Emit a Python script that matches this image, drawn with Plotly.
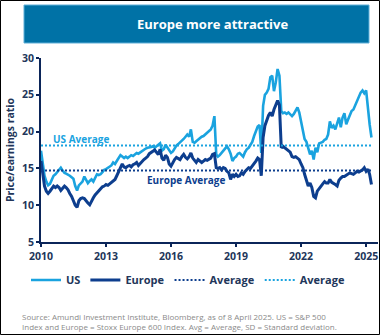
import pandas as pd
import plotly.graph_objects as go

# ---- data (monthly, Jan 2010 - Apr 2025) ----
start_month = "2010-01-01"
end_month = "2025-04-01"

us_pe = [
    17.4, 15.6, 14.0, 13.2, 12.7, 12.9, 13.4, 14.0, 14.2, 14.5, 14.8, 15.1,  # 2010
    14.7, 14.4, 14.3, 14.2, 14.0, 13.8, 13.6, 12.6, 12.0, 12.7, 12.9, 13.2,  # 2011
    13.9, 13.4, 13.0, 13.3, 13.5, 13.2, 13.8, 14.2, 14.1, 14.2, 14.5, 14.8,  # 2012
    14.9, 15.1, 15.3, 15.4, 15.8, 15.6, 16.0, 16.4, 16.8, 16.6, 16.4, 16.6,  # 2013
    16.4, 16.6, 16.8, 16.7, 16.9, 17.1, 17.0, 17.2, 17.4, 17.6, 17.7, 17.8,  # 2014
    17.8, 17.9, 18.0, 17.8, 18.0, 18.2, 18.4, 17.4, 17.6, 18.2, 17.8, 17.4,  # 2015
    17.1, 17.3, 17.8, 18.1, 18.3, 18.5, 18.7, 19.0, 19.3, 19.6, 19.3, 20.3,  # 2016
    18.6, 18.5, 18.7, 18.9, 19.2, 19.3, 19.4, 19.6, 19.8, 20.0, 20.3, 20.8,  # 2017
    22.1, 16.9, 16.6, 16.8, 17.1, 17.4, 17.8, 18.0, 17.6, 17.0, 16.0, 16.4,  # 2018
    16.6, 17.0, 17.1, 16.8, 16.6, 17.2, 17.6, 17.8, 18.2, 18.6, 19.4, 20.2,  # 2019
    20.7, 20.9, 17.1, 23.5, 25.0, 25.3, 25.8, 27.4, 27.6, 25.5, 26.7, 28.5,  # 2020
    27.6, 22.8, 22.5, 22.6, 22.4, 22.6, 22.3, 22.1, 22.4, 22.8, 23.3, 22.6,  # 2021
    21.4, 19.8, 19.0, 18.6, 17.6, 16.9, 17.4, 16.2, 17.8, 17.2, 18.4, 18.5,  # 2022
    18.6, 18.9, 19.0, 19.6, 21.4, 20.5, 20.8, 20.3, 21.2, 21.9, 20.6, 21.9,  # 2023
    22.5, 21.0, 21.6, 22.3, 22.8, 23.0, 23.6, 24.0, 24.6, 25.3, 25.6, 25.2,  # 2024
    25.6, 22.8, 21.0, 19.2,                                                  # 2025
]

europe_pe = [
    16.0, 14.2, 12.6, 11.9, 11.6, 11.9, 12.3, 12.6, 12.4, 12.6, 12.4, 12.0,  # 2010
    12.3, 12.6, 12.4, 12.1, 11.6, 11.2, 10.6, 10.0, 9.7, 10.6, 10.9, 11.0,   # 2011
    10.9, 10.5, 10.3, 10.05, 10.6, 11.0, 11.4, 11.7, 12.0, 12.3, 12.5, 12.6, # 2012
    12.8, 12.7, 12.9, 13.0, 13.2, 13.5, 14.0, 14.6, 15.0, 15.6, 15.2, 15.1,  # 2013
    15.3, 15.4, 15.2, 15.5, 15.6, 15.8, 15.4, 15.7, 16.0, 16.2, 16.4, 16.6,  # 2014
    17.0, 17.2, 17.4, 17.5, 17.2, 16.9, 17.6, 16.4, 16.1, 16.8, 16.5, 15.6,  # 2015
    15.3, 15.8, 16.2, 16.5, 16.3, 16.2, 16.6, 16.9, 16.5, 16.3, 16.6, 17.1,  # 2016
    16.4, 16.0, 15.8, 16.2, 16.0, 15.8, 16.0, 16.2, 16.1, 16.3, 16.4, 16.9,  # 2017
    17.0, 15.1, 15.0, 15.1, 14.8, 15.1, 15.0, 14.6, 14.4, 13.5, 14.2, 13.9,  # 2018
    14.2, 13.9, 14.0, 14.4, 14.2, 14.6, 14.8, 15.1, 15.0, 15.3, 15.6, 16.0,  # 2019
    16.4, 16.2, 14.0, 19.2, 20.8, 21.7, 22.2, 22.6, 22.1, 23.0, 23.7, 24.2,  # 2020
    23.6, 17.8, 18.0, 17.8, 17.6, 17.4, 17.2, 16.6, 16.5, 16.6, 16.4, 16.2,  # 2021
    15.6, 15.1, 14.2, 13.4, 12.6, 13.0, 12.4, 11.2, 11.0, 11.9, 12.3, 12.6,  # 2022
    12.9, 13.2, 13.0, 13.0, 13.5, 13.1, 13.0, 12.8, 12.6, 13.4, 13.7, 13.9,  # 2023
    13.9, 14.1, 14.2, 14.4, 14.3, 14.2, 14.4, 14.6, 14.5, 14.6, 14.8, 15.1,  # 2024
    14.6, 14.9, 14.2, 12.8,                                                  # 2025
]

us_average = 18.1
europe_average = 14.7

year_ticks = ["2010-01-01", "2013-01-01", "2016-01-01", "2019-01-01", "2022-01-01", "2025-01-01"]
year_labels = ["2010", "2013", "2016", "2019", "2022", "2025"]
y_ticks = [5, 10, 15, 20, 25, 30]

series_names = ["US", "Europe", "Average", "Average"]
title_text = "Europe more attractive"
y_title = "Price/earnings ratio"
source_text = ("Source: Amundi Investment Institute, Bloomberg, as of 8 April 2025. US = S&P 500<br>"
               "Index and Europe = Stoxx Europe 600 Index. Avg = Average, SD = Standard deviation.")

# ---- styling ----
W, H = 380, 335
ML, MR, MT, MB = 41, 2, 58, 93
PW, PH = W - ML - MR, H - MT - MB

LIGHT = "#1AA3DF"
DARK = "#0D3E8E"
AXIS = "#0B2559"
LABEL = "#22365A"
FONT = "Open Sans"


def px(x):
    return (x - ML) / PW


def py(y):
    return (H - MB - y) / PH


dates = pd.date_range(start_month, end_month, freq="MS")
avg_x = [dates[0], dates[-1]]

fig = go.Figure()
fig.add_trace(go.Scatter(x=dates, y=us_pe, mode="lines", name=series_names[0],
                         line=dict(color=LIGHT, width=2.6)))
fig.add_trace(go.Scatter(x=dates, y=europe_pe, mode="lines", name=series_names[1],
                         line=dict(color=DARK, width=3)))
fig.add_trace(go.Scatter(x=avg_x, y=[europe_average] * 2, mode="lines", name=series_names[2],
                         line=dict(color=DARK, width=2, dash="2px,2px")))
fig.add_trace(go.Scatter(x=avg_x, y=[us_average] * 2, mode="lines", name=series_names[3],
                         line=dict(color=LIGHT, width=2, dash="2px,2px")))

shapes = [
    # outer frame
    dict(type="rect", xref="paper", yref="paper", x0=px(0.5), x1=px(W - 0.5), y0=py(H - 0.5), y1=py(0.5),
         line=dict(color="#000000", width=1), fillcolor="rgba(0,0,0,0)", layer="below"),
    # title banner
    dict(type="rect", xref="paper", yref="paper", x0=px(24), x1=px(369), y0=py(43), y1=py(5),
         line=dict(color="#5FAFD8", width=1), fillcolor="#0072A6", layer="below"),
]

annotations = [
    dict(text=f"<b>{title_text}</b>", xref="paper", yref="paper", x=px(212), y=py(24),
         xanchor="center", yanchor="middle", showarrow=False,
         font=dict(family=FONT, size=13, color="white")),
    dict(text=f"<b>{y_title}</b>", xref="paper", yref="paper", x=px(10), y=py(150), textangle=-90,
         xanchor="center", yanchor="middle", showarrow=False,
         font=dict(family=FONT, size=10.5, color=LABEL)),
    dict(text="<b>US Average</b>", xref="paper", yref="paper", x=px(51), y=py(139),
         xanchor="left", yanchor="middle", showarrow=False,
         font=dict(family=FONT, size=10, color=LIGHT)),
    dict(text="<b>Europe Average</b>", xref="paper", yref="paper", x=px(145), y=py(180),
         xanchor="left", yanchor="middle", showarrow=False,
         font=dict(family=FONT, size=10, color=DARK)),
    dict(text=source_text, xref="paper", yref="paper", x=px(20), y=py(321), align="left",
         xanchor="left", yanchor="middle", showarrow=False,
         font=dict(family=FONT, size=8, color="#8A8A8A")),
]

fig.update_layout(
    width=W, height=H,
    margin=dict(l=ML, r=MR, t=MT, b=MB, pad=0),
    paper_bgcolor="white", plot_bgcolor="white",
    shapes=shapes, annotations=annotations,
    showlegend=True,
    legend=dict(orientation="h", x=px(26), xanchor="left", y=py(280), yanchor="middle",
                font=dict(family=FONT, size=11, color=LABEL, weight="bold"),
                bgcolor="rgba(0,0,0,0)", itemclick=False, traceorder="normal"),
    font=dict(family=FONT),
)

fig.update_xaxes(
    type="date", range=["2010-01-01", "2025-07-20"],
    tickmode="array", tickvals=year_ticks, ticktext=year_labels,
    showgrid=False, zeroline=False,
    showline=True, linecolor=AXIS, linewidth=2,
    ticks="outside", ticklen=3, tickwidth=2, tickcolor=AXIS,
    tickfont=dict(family=FONT, size=10.5, color=LABEL, weight="bold"),
)
fig.update_yaxes(
    range=[5, 30], tickmode="array", tickvals=y_ticks,
    showgrid=False, zeroline=False,
    showline=True, linecolor=AXIS, linewidth=2,
    ticks="outside", ticklen=3, tickwidth=2, tickcolor=AXIS,
    tickfont=dict(family=FONT, size=10.5, color=LABEL, weight="bold"),
)

fig.write_html("out.html")
